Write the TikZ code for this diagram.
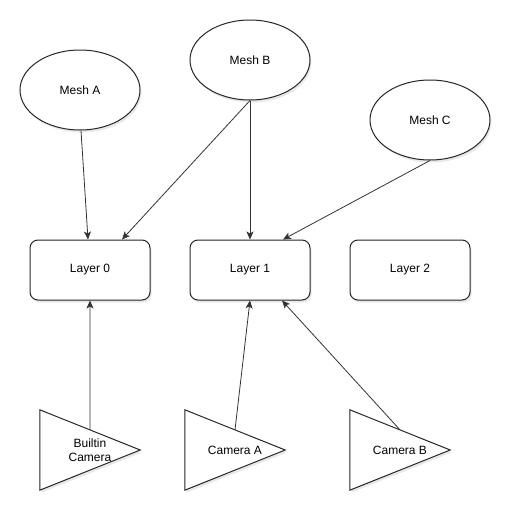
\documentclass[tikz,border=0pt]{standalone}
\usepackage{fontspec}
\setmainfont{Liberation Sans}
\usetikzlibrary{shapes.geometric,arrows.meta,calc,shadows}

\tikzset{
  shade/.style={drop shadow={opacity=0.18, shadow xshift=1.5pt, shadow yshift=-2.5pt}},
  mesh/.style={draw=black!85, line width=1pt, ellipse, fill=white, shade,
    minimum width=120pt, minimum height=80pt, inner sep=0pt},
  layer/.style={draw=black!85, line width=1pt, rounded corners=8pt, fill=white, shade,
    minimum width=120pt, minimum height=60pt, inner sep=0pt},
  cam/.style={minimum width=100pt, minimum height=80pt, inner sep=0pt, align=center},
  tri/.style={draw=black!85, line width=1pt, fill=white, shade},
  link/.style={draw=black!80, line width=0.8pt, -{Stealth[length=8pt,width=7pt,inset=2pt]}}
}

\begin{document}
\begin{tikzpicture}[x=1pt, y=-1pt, font=\fontsize{12}{14}\selectfont]
\useasboundingbox (0,0) rectangle (517,517);

% Meshes
\node[mesh] (meshA) at (80,90) {Mesh A};
\node[mesh] (meshB) at (250,60) {Mesh B};
\node[mesh] (meshC) at (430,120) {Mesh C};

% Layers
\node[layer] (layer0) at (90,270) {Layer 0};
\node[layer] (layer1) at (250,270) {Layer 1};
\node[layer] (layer2) at (410,270) {Layer 2};

% Cameras (triangle drawn round the label box)
\node[cam] (builtin) at (90,450) {};
\node[cam] (camA) at (235,450) {};
\node[cam] (camB) at (400,450) {};
\foreach \c in {builtin,camA,camB} {
  \draw[tri] (\c.north west) -- (\c.east) -- (\c.south west) -- cycle;
}
\node[align=center] (builtinTxt) at (builtin.center) {Builtin\\Camera};
\node (camATxt) at (camA.center) {Camera A};
\node (camBTxt) at (camB.center) {Camera B};

% Meshes to layers
\draw[link] ($(meshA.south)+(1,0)$) -- ($(layer0.north)+(-2,0)$);
\draw[link] (meshB.south) -- ($(layer0.north)+(32,0)$);
\draw[link] (meshB.south) -- (layer1.north);
\draw[link] (meshC.south) -- ($(layer1.north)+(33,0)$);

% Cameras to layers
\draw[link] ($(builtin.north west)!.5!(builtin.east)$) -- (layer0.south);
\draw[link] ($(camA.north west)!.5!(camA.east)$) -- (layer1.south);
\draw[link] ($(camB.north west)!.5!(camB.east)$) -- ($(layer1.south)+(32,0)$);
\end{tikzpicture}
\end{document}
